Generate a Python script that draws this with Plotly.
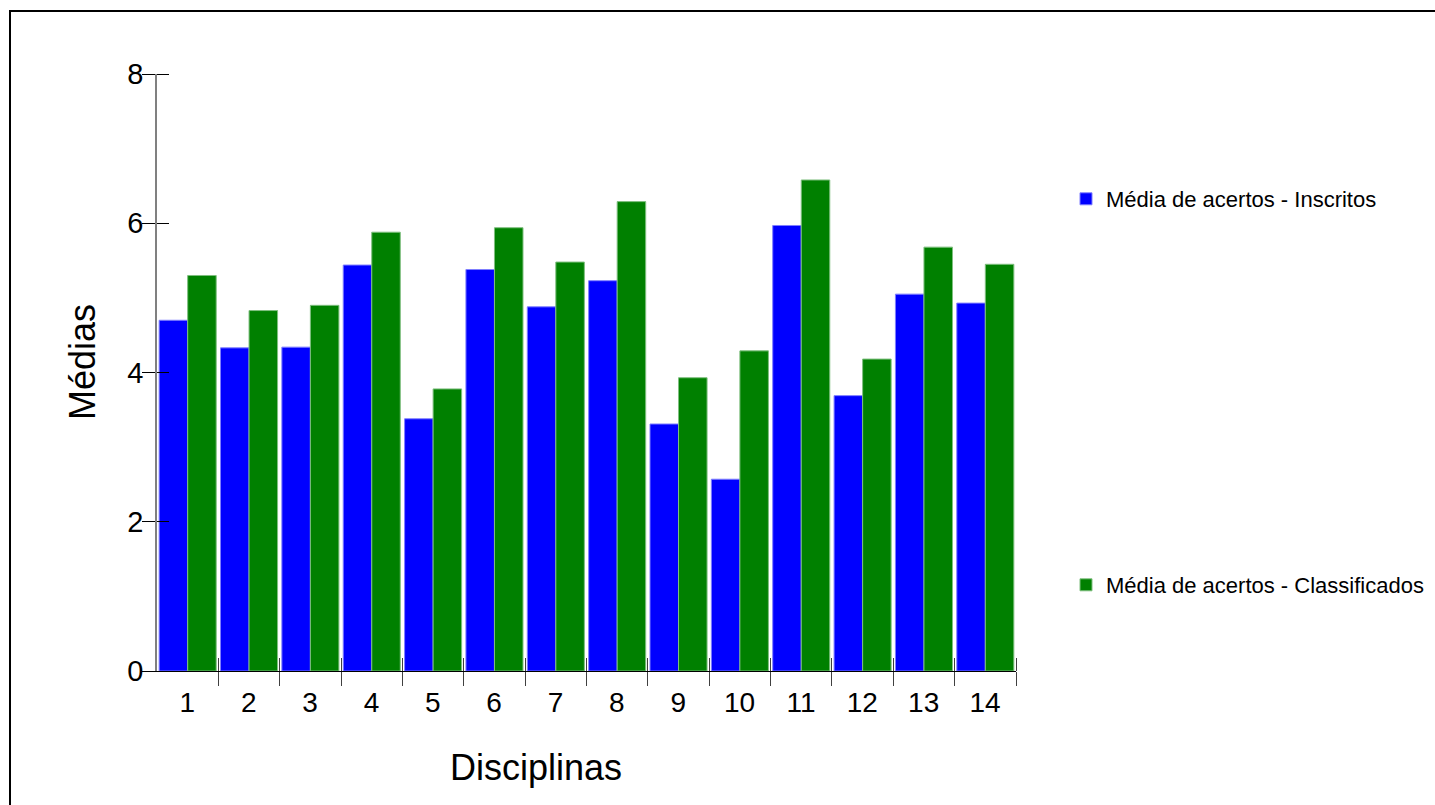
import plotly.graph_objects as go

# ---- data ----
disciplinas = list(range(1, 15))
tick_labels = [str(d) for d in disciplinas]
inscritos = [4.70, 4.33, 4.34, 5.44, 3.38, 5.38, 4.88, 5.23, 3.31, 2.57, 5.97, 3.69, 5.05, 4.93]
classificados = [5.30, 4.83, 4.90, 5.88, 3.78, 5.94, 5.48, 6.29, 3.93, 4.29, 6.58, 4.18, 5.68, 5.45]
y_ticks = [0, 2, 4, 6, 8]

FONT = "Arial, Liberation Sans, sans-serif"
W, H = 1435, 805
L, R, T, B = 157, 1435 - 1016, 74, 805 - 671
PW, PH = W - L - R, H - T - B


def px_x(p):
    return (p - L) / PW


def px_y(p):
    return (H - B - p) / PH


fig = go.Figure()
fig.add_trace(go.Bar(
    x=disciplinas, y=inscritos, name="Média de acertos - Inscritos",
    marker=dict(color="#0000FF", line=dict(color="#7f7fff", width=1)),
    legend="legend", showlegend=True,
))
fig.add_trace(go.Bar(
    x=disciplinas, y=classificados, name="Média de acertos - Classificados",
    marker=dict(color="#008000", line=dict(color="#7fbf7f", width=1)),
    legend="legend2", showlegend=True,
))

bounds = [d + 0.5 for d in disciplinas]
group_px = PW / len(disciplinas)

fig.update_layout(
    width=W, height=H, showlegend=True,
    margin=dict(l=L, r=R, t=T, b=B, autoexpand=False),
    paper_bgcolor="white", plot_bgcolor="white",
    font=dict(family=FONT, color="black"),
    barmode="group", bargap=0.07, bargroupgap=0,
    xaxis=dict(
        range=[0.5, 14.5], tickmode="array", tickvals=bounds, ticktext=tick_labels,
        ticklabelshift=-int(round(group_px / 2)), ticklabelstandoff=-8,
        ticks="outside", ticklen=14, tickcolor="#404040", tickwidth=1,
        minor=dict(ticks="inside", ticklen=13, tickcolor="#404040", tickwidth=1,
                   tickmode="array", tickvals=bounds, showgrid=False),
        showline=True, linecolor="black", linewidth=1,
        showgrid=False, zeroline=False, layer="above traces",
        tickfont=dict(size=28, family=FONT, color="black"),
    ),
    yaxis=dict(
        range=[0, 8], tickmode="array", tickvals=y_ticks, ticklabelstandoff=-7,
        ticks="outside", ticklen=13, tickcolor="black", tickwidth=1,
        minor=dict(ticks="inside", ticklen=12, tickcolor="black", tickwidth=1,
                   tickmode="array", tickvals=y_ticks, showgrid=False),
        showline=True, linecolor="#808080", linewidth=1.5,
        showgrid=False, zeroline=False, layer="above traces",
        tickfont=dict(size=29, family=FONT, color="black"),
    ),
    legend=dict(
        x=px_x(1066), y=px_y(199), xanchor="left", yanchor="middle",
        font=dict(size=22, family=FONT, color="black"),
        bgcolor="rgba(0,0,0,0)", borderwidth=0, visible=True,
    ),
    legend2=dict(
        x=px_x(1066), y=px_y(585), xanchor="left", yanchor="middle",
        font=dict(size=22, family=FONT, color="black"),
        bgcolor="rgba(0,0,0,0)", borderwidth=0, visible=True,
    ),
    annotations=[
        dict(text="Disciplinas", x=px_x(536), y=px_y(767), xref="paper", yref="paper",
             xanchor="center", yanchor="middle", showarrow=False,
             font=dict(size=36, family=FONT, color="black")),
        dict(text="Médias", x=px_x(82), y=px_y(362), xref="paper", yref="paper",
             xanchor="center", yanchor="middle", showarrow=False, textangle=-90,
             font=dict(size=36, family=FONT, color="black")),
    ],
    shapes=[
        dict(type="rect", xref="paper", yref="paper",
             x0=px_x(10), x1=px_x(1445), y0=px_y(815), y1=px_y(11),
             line=dict(color="black", width=2), fillcolor="rgba(0,0,0,0)",
             layer="below"),
    ],
)

fig.write_html(
    "out.html",
    config={"displayModeBar": False},
    post_script="document.body.style.margin='0';document.body.style.overflow='hidden';",
)
